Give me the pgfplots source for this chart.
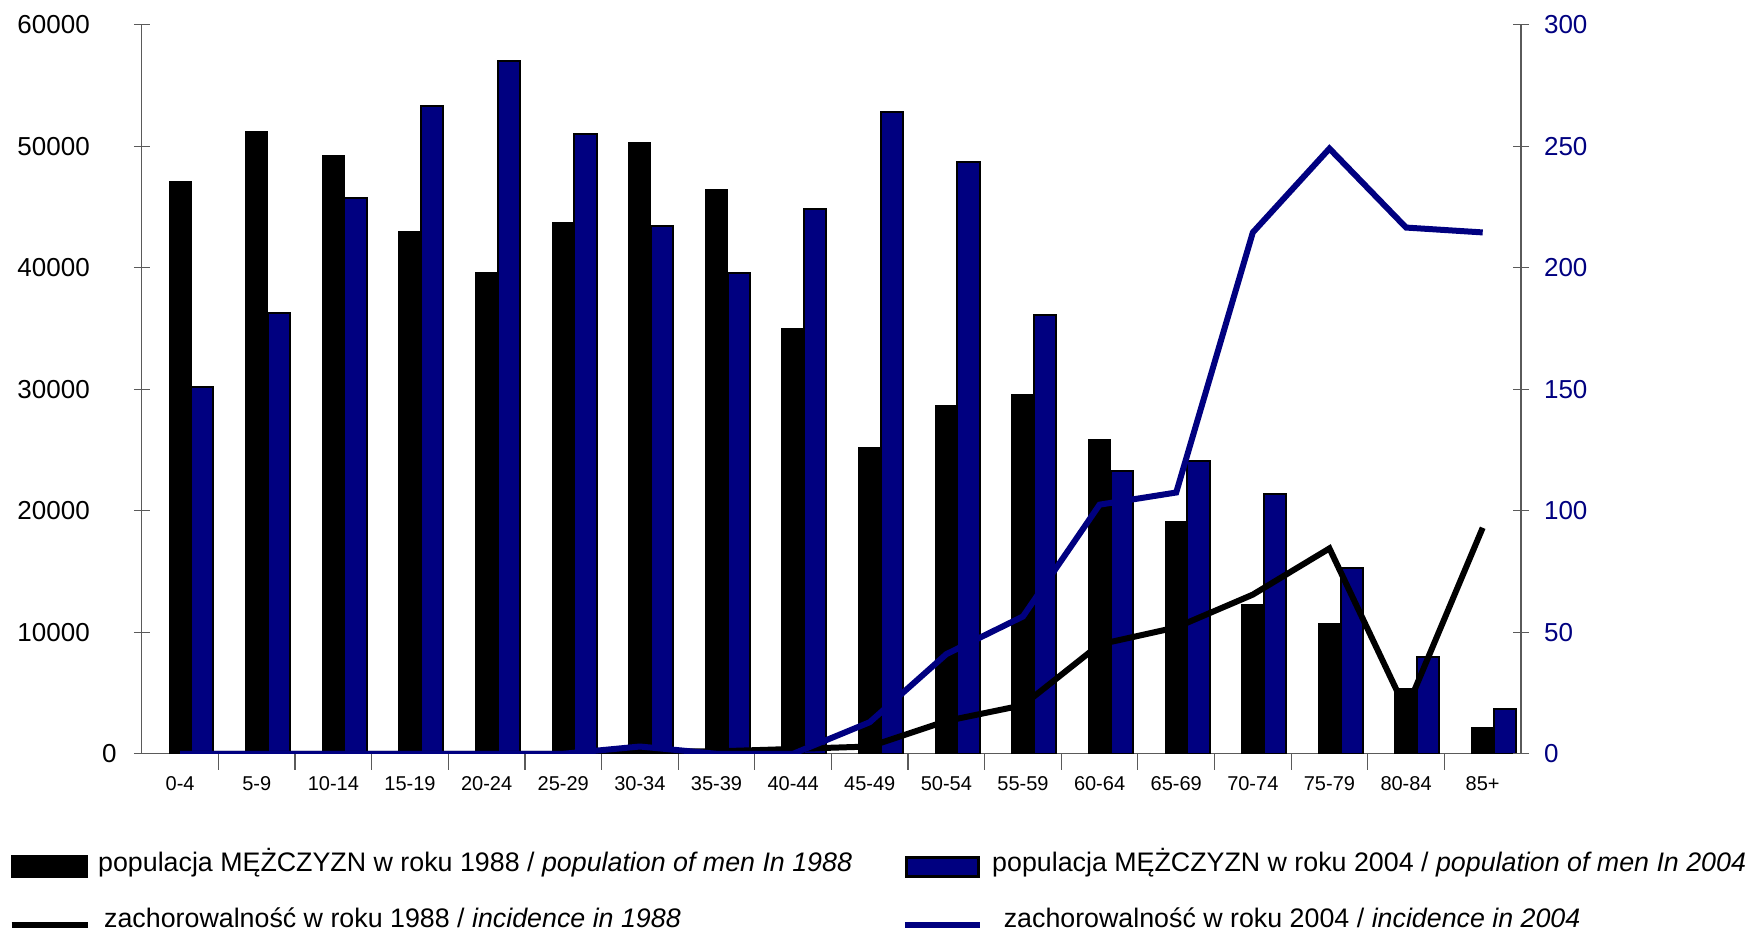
\documentclass[border=0pt]{standalone}
\usepackage{fontspec}
\setmainfont{Liberation Sans}
\usepackage{pgfplots}
\pgfplotsset{compat=1.18}
\definecolor{navyb}{RGB}{0,0,128}
\definecolor{axgray}{RGB}{90,90,90}

\begin{document}
\begin{tikzpicture}
\path[use as bounding box] (-70.9pt,-90.1pt) rectangle (804.6pt,376.9pt);
\pgfplotsset{
  common/.style={
    scale only axis, width=689.6pt, height=364.6pt,
    xmin=-0.5, xmax=17.5,
    /pgf/number format/assume math mode=true,
    /pgf/number format/1000 sep={},
    scaled y ticks=false,
    tick align=center,
    major tick length=8pt,
    tick style={axgray, line width=0.6pt},
    x axis line style={-, axgray, line width=0.6pt},
    y axis line style={-, axgray, line width=0.6pt},
    legend style={draw=none, fill=none, inner sep=0pt, outer sep=0pt,
      anchor=north west, row sep=13.6pt,
      font=\fontsize{13.4}{16}\selectfont,
      cells={anchor=base west},
      nodes={text height=0.75em, text depth=0.25em}},
  }
}
\begin{axis}[common,
  ymin=0, ymax=60000,
  axis y line*=left, axis x line*=bottom,
  ybar=0pt, bar width=0.29,
  xtick={0,...,17},
  xticklabels={0-4,5-9,10-14,15-19,20-24,25-29,30-34,35-39,40-44,45-49,50-54,55-59,60-64,65-69,70-74,75-79,80-84,85+},
  major x tick style={draw=none},
  xticklabel style={font=\fontsize{10}{12}\selectfont},
  extra x ticks={0.5,1.5,...,16.5},
  extra x tick labels={},
  extra x tick style={major x tick style={draw=axgray}, major tick length=8pt},
  ytick={0,10000,...,60000},
  yticklabels={0\kern-14pt,10000,20000,30000,40000,50000,60000},
  yticklabel style={font=\fontsize{13}{15}\selectfont, xshift=-18.5pt},
  legend style={at={(0,0)}, xshift=-66.5pt, yshift=-49.5pt, nodes={inner xsep=3.9pt}},
]
\addplot[fill=black, draw=black, line width=0.5pt,
  legend image code/.code={\fill[black] (0pt,-3pt) rectangle (38pt,8pt);}]
  coordinates {(0,47100) (1,51200) (2,49200) (3,43000) (4,39600) (5,43700) (6,50300) (7,46400) (8,35000) (9,25200) (10,28700) (11,29600) (12,25900) (13,19100) (14,12300) (15,10700) (16,5400) (17,2200)};
\addlegendentry{populacja MĘŻCZYZN w roku 1988 / \textit{population of men In 1988}}
\addplot[fill=navyb, draw=black, line width=1pt, forget plot]
  coordinates {(0,30200) (1,36300) (2,45700) (3,53300) (4,57000) (5,51000) (6,43400) (7,39600) (8,44800) (9,52800) (10,48700) (11,36100) (12,23300) (13,24100) (14,21400) (15,15300) (16,8000) (17,3700)};
\addlegendimage{legend image code/.code={\draw[black, line width=2.8pt] (0pt,1pt) -- (38pt,1pt);}}
\addlegendentry{\hspace*{3pt}zachorowalność w roku 1988 / \textit{incidence in 1988}}
\end{axis}

\begin{axis}[common,
  ymin=0, ymax=300,
  axis y line*=right, axis x line=none,
  ytick={0,50,...,300},
  yticklabel style={font=\fontsize{13}{15}\selectfont, text=navyb, xshift=4pt},
  legend style={at={(0,0)}, xshift=380.1pt, yshift=-49.5pt, nodes={inner xsep=4.9pt}},
]
\addlegendimage{legend image code/.code={\draw[fill=navyb,draw=black,line width=1.4pt] (0.7pt,-2.3pt) rectangle (36.7pt,7.3pt);}}
\addlegendentry{populacja MĘŻCZYZN w roku 2004 / \textit{population of men In 2004}}
\addplot[black, line width=3pt, forget plot]
  coordinates {(0,0) (1,0) (2,0) (3,0) (4,0) (5,0) (6,1) (7,1) (8,2) (9,3) (10,13.5) (11,20) (12,45) (13,52) (14,65.5) (15,84.5) (16,18) (17,93)};
\addplot[navyb, line width=3pt,
  legend image code/.code={\draw[navyb, line width=2.8pt] (0pt,1pt) -- (37.4pt,1pt);}]
  coordinates {(0,0) (1,0) (2,0) (3,0) (4,0) (5,0) (6,3) (7,0) (8,0) (9,13) (10,41) (11,56.5) (12,102.5) (13,107.5) (14,214.5) (15,249) (16,216.5) (17,214.5)};
\addlegendentry{\hspace*{5.8pt}zachorowalność w roku 2004 / \textit{incidence in 2004}}
\end{axis}
\end{tikzpicture}
\end{document}
